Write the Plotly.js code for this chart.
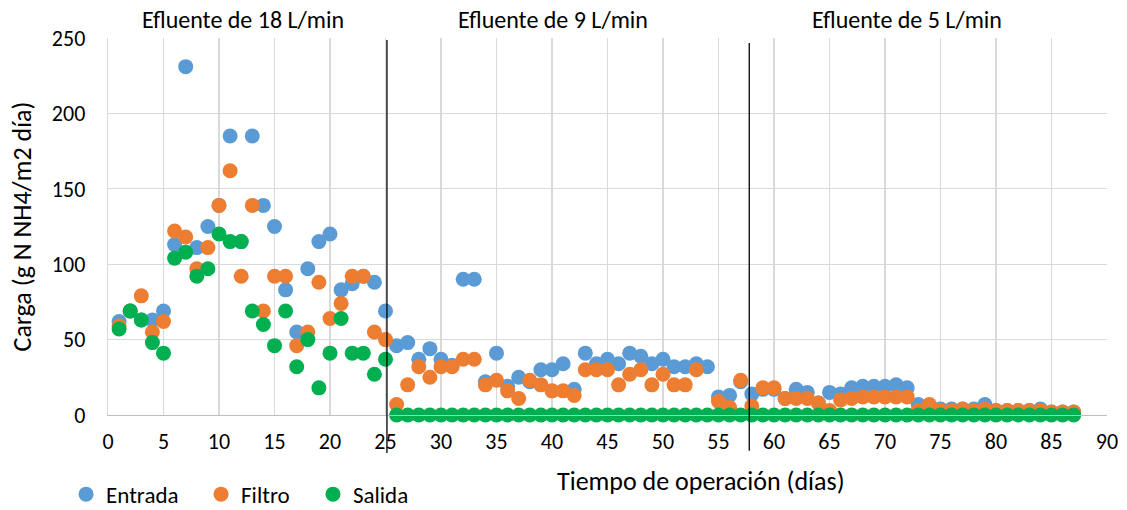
<!DOCTYPE html>
<html>
<head>
<meta charset="utf-8">
<script src="https://cdn.plot.ly/plotly-3.0.1.min.js"></script>
<style>html,body{margin:0;padding:0;background:#fff;}#chart{width:1127px;height:510px;}</style>
</head>
<body>
<div id="chart"></div>
<script>
const days = Array.from({length: 87}, (_, i) => i + 1);

const entrada = [62, 69, 63, 63, 69, 113, 231, 111, 125, 139,
  185, 115, 185, 139, 125, 83, 55, 97, 115, 120,
  83, 87, 92, 88, 69, 46, 48, 37, 44, 37,
  33, 90, 90, 22, 41, 19, 25, 22, 30, 30,
  34, 17, 41, 34, 37, 34, 41, 39, 34, 37,
  32, 32, 34, 32, 12, 13, 22, 14, 17, 17,
  11, 17, 15, 8, 15, 14, 18, 19, 19, 19,
  20, 18, 7, 6, 4, 4, 4, 4, 7, 3,
  3, 3, 3, 4, 2, 2, 2];

const filtro = [59, 69, 79, 55, 62, 122, 118, 97, 111, 139,
  162, 92, 139, 69, 92, 92, 46, 55, 88, 64,
  74, 92, 92, 55, 50, 7, 20, 32, 25, 32,
  32, 37, 37, 20, 23, 16, 11, 23, 20, 16,
  16, 13, 30, 30, 30, 20, 27, 30, 20, 27,
  20, 20, 30, null, 9, 5, 23, 6, 18, 18,
  11, 11, 11, 8, 3, 10, 11, 12, 12, 12,
  12, 12, 3, 7, 3, 3, 4, 3, 4, 3,
  3, 3, 3, 3, 2, 2, 2];

const salida = [57, 69, 63, 48, 41, 104, 108, 92, 97, 120,
  115, 115, 69, 60, 46, 69, 32, 50, 18, 41,
  64, 41, 41, 27, 37, 0, 0, 0, 0, 0,
  0, 0, 0, 0, 0, 0, 0, 0, 0, 0,
  0, 0, 0, 0, 0, 0, 0, 0, 0, 0,
  0, 0, 0, 0, 0, 0, 0, 0, 0, 0,
  0, 0, 0, 0, 0, 0, 0, 0, 0, 0,
  0, 0, 0, 0, 0, 0, 0, 0, 0, 0,
  0, 0, 0, 0, 0, 0, 0];

const seriesNames = ['Entrada', 'Filtro', 'Salida'];
const phaseLabels = ['Efluente de 18 L/min', 'Efluente de 9 L/min', 'Efluente de 5 L/min'];
const phaseLabelX = [12.2, 40.1, 72.0];
const phaseBoundaries = [25.13, 57.77];
const xTitle = 'Tiempo de operación (días)';
const yTitle = 'Carga (g N NH4/m2 día)';

const FONT = 'Carlito, Lato, "Open Sans", sans-serif';
const colors = ['#5B9BD5', '#ED7D31', '#00B050'];
const values = [entrada, filtro, salida];
const legendIds = ['legend', 'legend2', 'legend3'];
const legendX = [0.0586, 0.1784, 0.2777];

const traces = seriesNames.map((name, i) => ({
  type: 'scatter',
  mode: 'markers',
  name: name,
  x: days,
  y: values[i],
  marker: {color: colors[i], size: 15},
  legend: legendIds[i],
  cliponaxis: false
}));

const annotations = phaseLabels.map((t, i) => ({
  text: t, x: phaseLabelX[i], xref: 'x', y: 1.048, yref: 'paper',
  showarrow: false, xanchor: 'center', yanchor: 'middle',
  font: {family: FONT, size: 24, color: '#000'}
}));
annotations.push({
  text: xTitle, x: 53.4, xref: 'x', y: -0.176, yref: 'paper',
  showarrow: false, xanchor: 'center', yanchor: 'middle',
  font: {family: FONT, size: 26, color: '#000'}
});

const shapes = phaseBoundaries.map((b, i) => ({
  type: 'line', xref: 'x', yref: 'paper',
  x0: b, x1: b, y0: i === 0 ? 0.995 : 0.987, y1: i === 0 ? -0.101 : -0.095,
  line: {color: '#000', width: 1.3}
}));

const layout = {
  width: 1127, height: 510,
  margin: {l: 108, r: 20, t: 38, b: 95},
  paper_bgcolor: '#fff', plot_bgcolor: '#fff',
  font: {family: FONT, size: 22, color: '#000'},
  showlegend: true,
  xaxis: {
    range: [0, 90], dtick: 5, tick0: 0,
    showgrid: true, gridcolor: '#d9d9d9', gridwidth: 1.3,
    showline: true, linecolor: '#bfbfbf', linewidth: 1.3, mirror: false,
    zeroline: false, ticks: '', ticklabelstandoff: 6,
    tickfont: {family: FONT, size: 22, color: '#000'}
  },
  yaxis: {
    range: [0, 250], dtick: 50, tick0: 0,
    showgrid: true, gridcolor: '#d9d9d9', gridwidth: 1.3,
    showline: true, linecolor: '#d9d9d9', linewidth: 1.3, mirror: false,
    zeroline: false, ticks: '', ticklabelstandoff: 17,
    tickfont: {family: FONT, size: 22, color: '#000'},
    title: {text: yTitle, font: {family: FONT, size: 26, color: '#000'}, standoff: 12}
  },
  annotations: annotations,
  shapes: shapes
};

legendIds.forEach((id, i) => {
  layout[id] = {
    orientation: 'h', xref: 'container', yref: 'container',
    x: legendX[i], xanchor: 'left', y: 0.031, yanchor: 'middle',
    font: {family: FONT, size: 23, color: '#000'}, itemwidth: 30,
    bgcolor: 'rgba(0,0,0,0)'
  };
});

Plotly.newPlot('chart', traces, layout, {displayModeBar: false, staticPlot: true});
</script>
</body>
</html>
